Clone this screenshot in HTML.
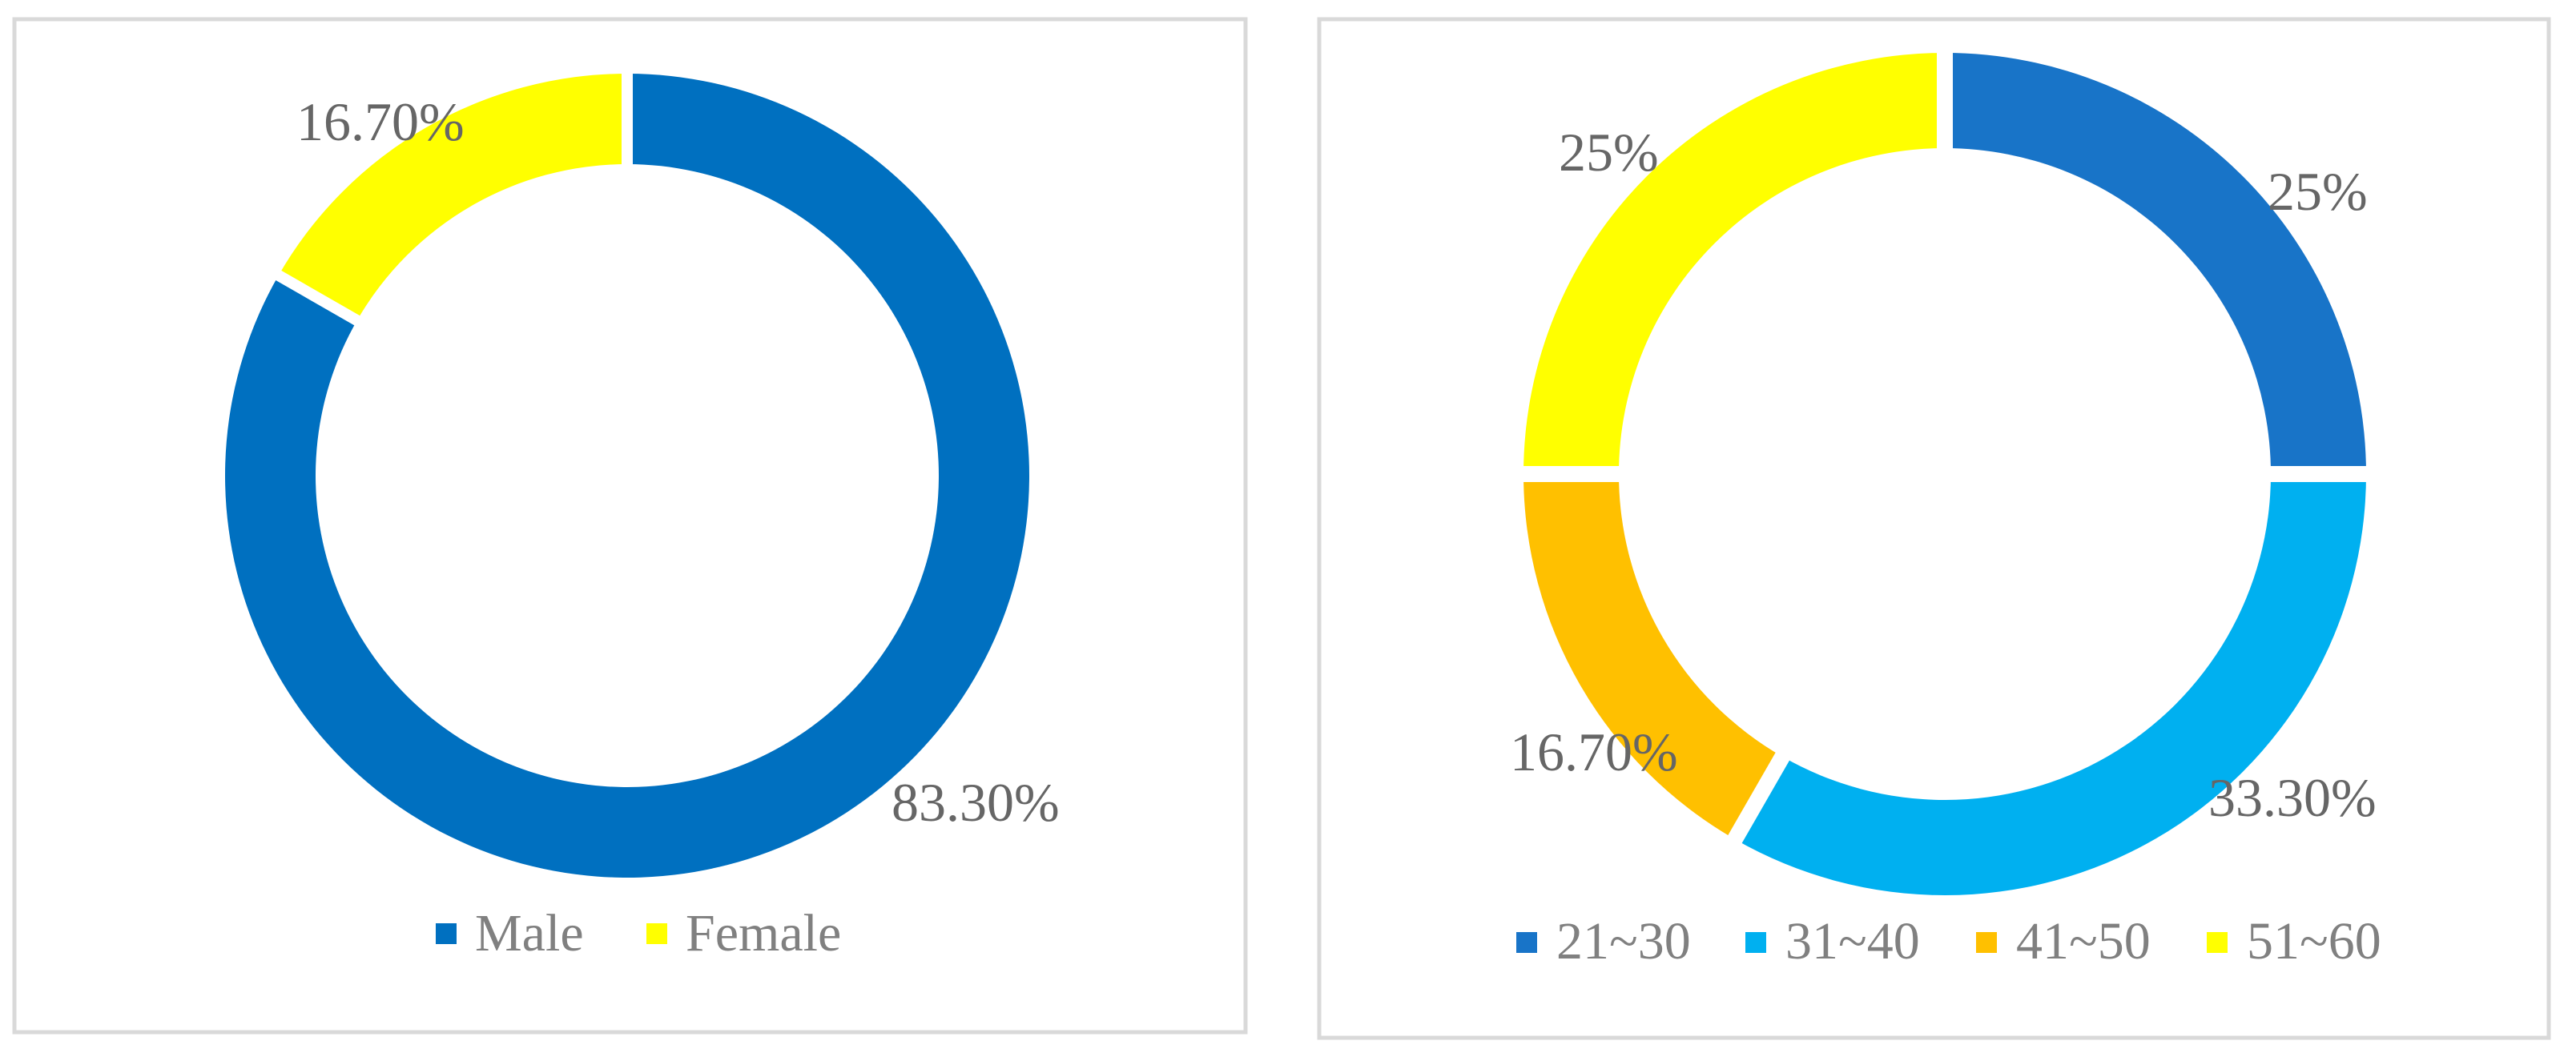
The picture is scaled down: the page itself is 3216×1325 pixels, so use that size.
<!DOCTYPE html>
<html><head><meta charset="utf-8">
<style>
html,body{margin:0;padding:0;background:#fff;}
svg{display:block;}
text{font-family:"Liberation Serif",serif;}
</style></head>
<body>
<svg id="chart" width="3216" height="1325" viewBox="0 0 3216 1325" xmlns="http://www.w3.org/2000/svg">
  <rect x="18" y="24" width="1537" height="1265" fill="#fff" stroke="#d9d9d9" stroke-width="5"/>
  <rect x="1647" y="24" width="1535" height="1272" fill="#fff" stroke="#d9d9d9" stroke-width="5"/>
  <g id="g1"></g>
  <g id="g2"></g>
</svg>
<script>
const genderCats = ["Male", "Female"];
const genderVals = [83.3, 16.7];
const genderLabels = ["83.30%", "16.70%"];
const ageCats = ["21~30", "31~40", "41~50", "51~60"];
const ageVals = [25, 33.3, 16.7, 25];
const ageLabels = ["25%", "33.30%", "16.70%", "25%"];

const NS = "http://www.w3.org/2000/svg";
function mk(tag, attrs, parent) {
  const e = document.createElementNS(NS, tag);
  for (const k in attrs) e.setAttribute(k, attrs[k]);
  parent.appendChild(e);
  return e;
}
function pt(cx, cy, r, a) { return [cx + r * Math.sin(a), cy - r * Math.cos(a)]; }
function arcPath(cx, cy, R, r, a0, a1) {
  const large = (a1 - a0) > Math.PI ? 1 : 0;
  const p0 = pt(cx, cy, R, a0), p1 = pt(cx, cy, R, a1), p2 = pt(cx, cy, r, a1), p3 = pt(cx, cy, r, a0);
  return `M${p0[0]},${p0[1]} A${R},${R} 0 ${large} 1 ${p1[0]},${p1[1]} L${p2[0]},${p2[1]} A${r},${r} 0 ${large} 0 ${p3[0]},${p3[1]} Z`;
}
function donut(g, vals, colors, cx, cy, R, r, gap, names) {
  const total = vals.reduce((a, b) => a + b, 0);
  let a = 0;
  const bounds = [];
  vals.forEach((v, i) => {
    const a1 = a + v / total * 2 * Math.PI;
    const p = mk("path", { d: arcPath(cx, cy, R, r, a, a1), fill: colors[i] }, g);
    
    
    bounds.push(a);
    a = a1;
  });
  bounds.forEach(b => {
    const q0 = pt(cx, cy, r - 3, b), q1 = pt(cx, cy, R + 3, b);
    const l = mk("line", { x1: q0[0], y1: q0[1], x2: q1[0], y2: q1[1], stroke: "#fff", "stroke-width": gap }, g);
    
    
  });
}
function label(g, txt, x, y, size, color, name) {
  const t = mk("text", { x: x, y: y, "font-size": size, fill: color }, g);
  t.textContent = txt;
  
  
}
function legendSwatch(g, x, y, color, name) {
  const s = mk("rect", { x: x, y: y, width: 26, height: 26, fill: color }, g);
  
  
}

// Gender donut
const g1 = document.getElementById("g1");
const c1 = ["#0070c0", "#ffff00"];
donut(g1, genderVals, c1, 783, 594, 502, 389, 14, ["slice-male", "slice-female"]);
label(g1, genderLabels[0], 1113, 1025, 68, "#666666", "label-male-value");
label(g1, genderLabels[1], 370, 175, 68, "#666666", "label-female-value");
const lx1 = [544, 807];
genderCats.forEach((c, i) => {
  legendSwatch(g1, lx1[i], 1153, c1[i], "legend-swatch-" + c.toLowerCase());
  label(g1, c, lx1[i] + 49, 1187, 66, "#808080", "legend-label-" + c.toLowerCase());
});

// Age donut
const g2 = document.getElementById("g2");
const c2 = ["#1874c8", "#00b0f0", "#ffc000", "#ffff00"];
donut(g2, ageVals, c2, 2428, 592, 526, 407, 20, ["slice-21-30", "slice-31-40", "slice-41-50", "slice-51-60"]);
label(g2, ageLabels[0], 2831, 262, 68, "#666666", "label-21-30-value");
label(g2, ageLabels[1], 2757, 1019, 68, "#666666", "label-31-40-value");
label(g2, ageLabels[2], 1885, 962, 68, "#666666", "label-41-50-value");
label(g2, ageLabels[3], 1946, 213, 68, "#666666", "label-51-60-value");
const lx2 = [1893, 2179, 2467, 2755];
ageCats.forEach((c, i) => {
  legendSwatch(g2, lx2[i], 1164, c2[i], "legend-swatch-" + c.replace("~", "-"));
  label(g2, c, lx2[i] + 50, 1197, 66, "#808080", "legend-label-" + c.replace("~", "-"));
});
</script>
</body></html>
